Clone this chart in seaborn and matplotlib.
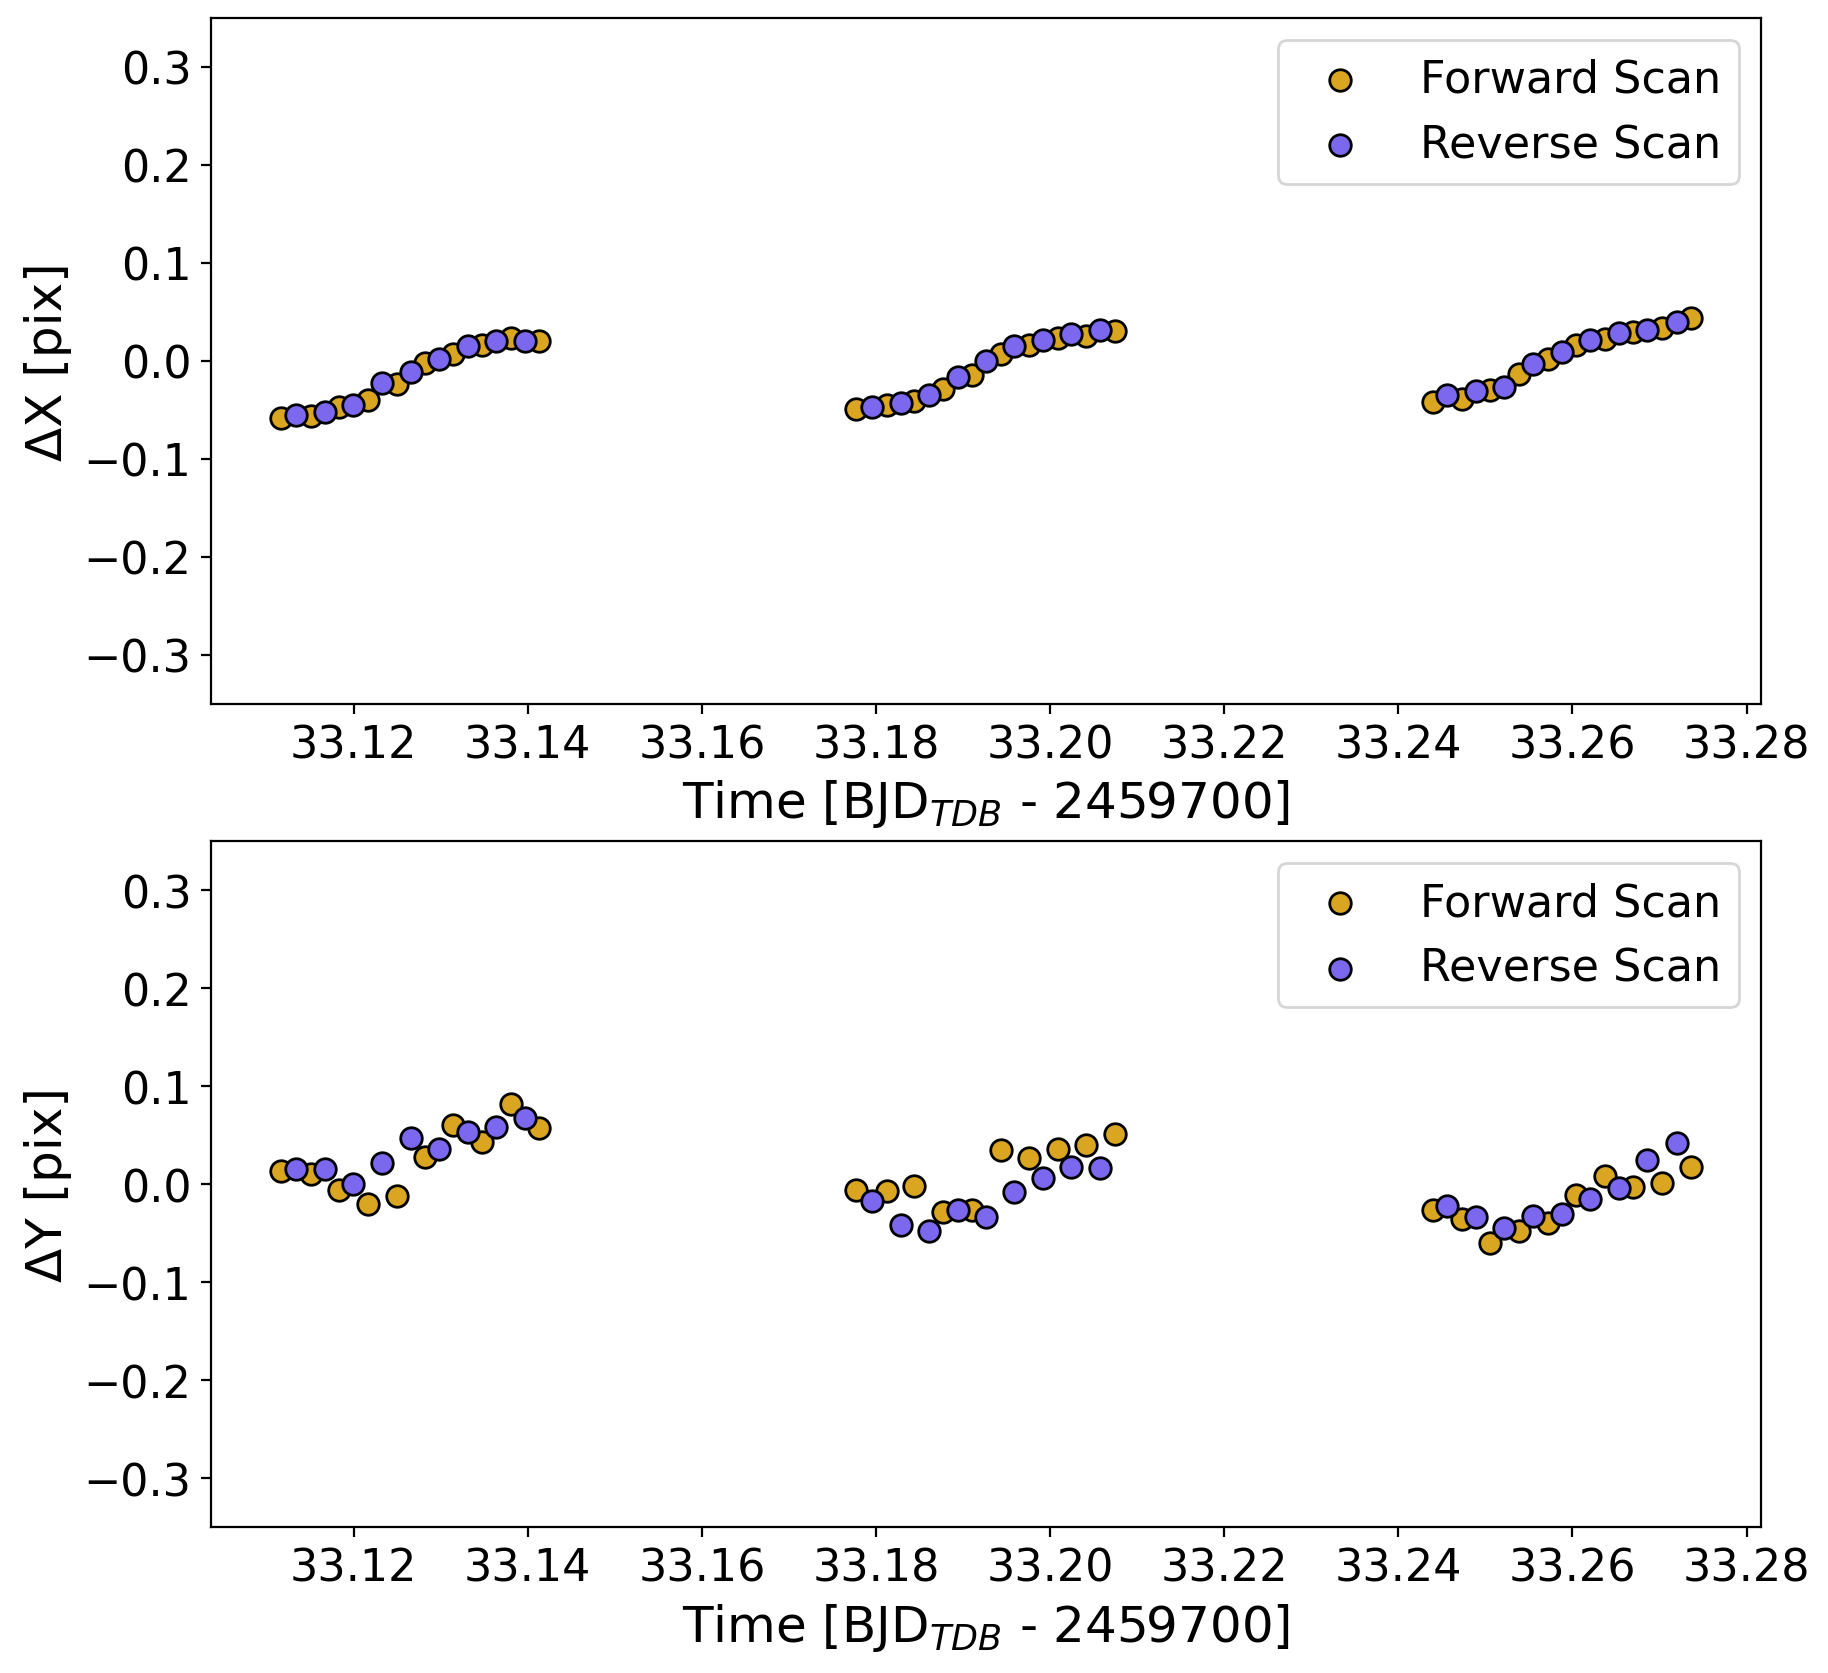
"""Centroid drift of forward / reverse scans in X and Y"""

import matplotlib

matplotlib.use("Agg")
import matplotlib.pyplot as plt
import pandas as pd
import seaborn as sns

# time stamps [BJD_TDB - 2459700]
time_fwd = [
    33.11170, 33.11506, 33.11831, 33.12164, 33.12494, 33.12815, 33.13145, 33.13478, 33.13803, 33.14128,
    33.17775, 33.18127, 33.18441, 33.18770, 33.19103, 33.19436, 33.19753, 33.20086, 33.20416, 33.20749,
    33.24396, 33.24729, 33.25054, 33.25387, 33.25716, 33.26038, 33.26374, 33.26700, 33.27025, 33.27358,
]
time_rev = [
    33.11342, 33.11670, 33.11992, 33.12329, 33.12654, 33.12979, 33.13317, 33.13638, 33.13963,
    33.17955, 33.18284, 33.18605, 33.18938, 33.19268, 33.19589, 33.19918, 33.20243, 33.20576,
    33.24564, 33.24893, 33.25218, 33.25551, 33.25877, 33.26202, 33.26539, 33.26860, 33.27198,
]

# x shifts [pix]
dx_fwd = [
    -0.0585, -0.056, -0.047, -0.040, -0.0235, -0.0024, 0.0068, 0.0163, 0.0232, 0.0204,
    -0.0493, -0.0452, -0.0411, -0.0282, -0.0146, 0.0075, 0.0163, 0.0232, 0.0255, 0.0300,
    -0.0418, -0.0391, -0.0299, -0.0136, 0.0024, 0.0160, 0.0228, 0.0296, 0.0340, 0.0433,
]
dx_rev = [
    -0.055, -0.052, -0.045, -0.023, -0.011, 0.0017, 0.0153, 0.0198, 0.0204,
    -0.0469, -0.0428, -0.035, -0.0166, 0.0000, 0.0147, 0.0211, 0.0272, 0.0316,
    -0.035, -0.0306, -0.0265, -0.0034, 0.0086, 0.0211, 0.0283, 0.0316, 0.0392,
]

# y shifts [pix]
dy_fwd = [
    0.0129, 0.0102, -0.0061, -0.0203, -0.0125, 0.0271, 0.0600, 0.0430, 0.0820, 0.0577,
    -0.0058, -0.0068, -0.0017, -0.0288, -0.0261, 0.0349, 0.0265, 0.0356, 0.0400, 0.0509,
    -0.0261, -0.0356, -0.0600, -0.0481, -0.0400, -0.0112, 0.0085, -0.0034, 0.0010, 0.0170,
]
dy_rev = [
    0.0153, 0.0153, 0.0000, 0.0214, 0.0468, 0.0356, 0.0532, 0.0583, 0.0671,
    -0.0176, -0.0417, -0.0481, -0.0261, -0.0339, -0.0085, 0.0061, 0.0170, 0.0163,
    -0.0221, -0.0339, -0.0451, -0.0329, -0.0305, -0.0153, -0.0041, 0.0244, 0.0417,
]

FWD_COLOR = "goldenrod"
REV_COLOR = "mediumslateblue"


def plot_shift(ax, fwd, rev, ylabel):
    """Scatter forward and reverse scans on one axis."""
    df_f = pd.DataFrame({"t": time_fwd, "d": fwd})
    df_r = pd.DataFrame({"t": time_rev, "d": rev})
    sns.scatterplot(data=df_f, x="t", y="d", ax=ax, color=FWD_COLOR, s=60,
                    edgecolor="black", linewidth=1, label="Forward Scan", zorder=2)
    sns.scatterplot(data=df_r, x="t", y="d", ax=ax, color=REV_COLOR, s=60,
                    edgecolor="black", linewidth=1, label="Reverse Scan", zorder=3)
    ax.set_ylim(-0.35, 0.35)
    ax.set_xlabel("Time [BJD$_{TDB}$ - 2459700]", fontsize=18)
    ax.set_ylabel(ylabel, fontsize=18)
    ax.tick_params(labelsize=16)
    ax.legend(loc="upper right", fontsize=16)


fig, axs = plt.subplots(2, 1, figsize=(9.14, 8.37), dpi=200)
fig.subplots_adjust(left=0.1154, right=0.9634, top=0.9887, bottom=0.0872, hspace=0.2)

plot_shift(axs[0], dx_fwd, dx_rev, "ΔX [pix]")
plot_shift(axs[1], dy_fwd, dy_rev, "ΔY [pix]")

fig.savefig("out.png", dpi=200)
